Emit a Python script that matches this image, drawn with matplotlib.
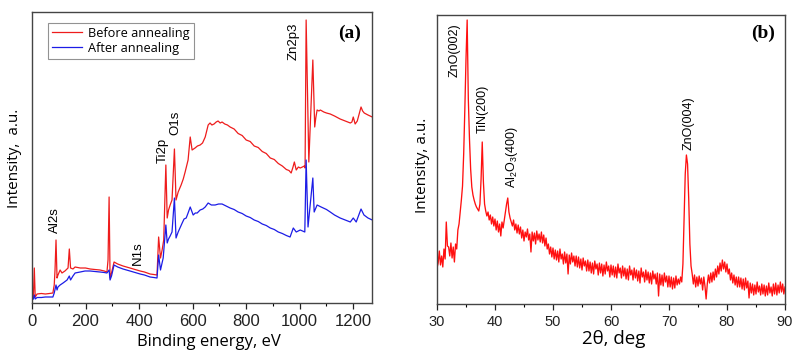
import numpy as np
import matplotlib
matplotlib.use("Agg")
import matplotlib.pyplot as plt

# ---- (a) XPS survey (binding energy eV, intensity a.u.)
red_ev = [0, 5, 8.6, 12, 19, 35, 50, 65, 78, 83, 86, 89.7, 93.5, 97, 105, 112, 123,
          134.6, 139.4, 144, 153, 161, 180, 200, 217, 235, 254, 270, 280, 284, 288,
          291.6, 297, 306.5, 320, 340, 366, 385, 404, 420, 441, 455, 467, 473, 480,
          486, 492, 500, 505, 510, 516, 523, 532, 538, 546, 557, 565, 572, 583, 591,
          598, 609, 618, 628, 637, 647, 658, 665, 672, 680, 688, 695, 703, 710, 720,
          730, 740, 755, 770, 785, 800, 815, 830, 845, 860, 875, 890, 905, 920, 935,
          950, 960, 968, 975, 980, 987, 995, 1002, 1010, 1017, 1020, 1024, 1034, 1049,
          1056, 1060, 1065, 1072, 1077, 1090, 1100, 1114, 1130, 1151, 1170, 1189, 1195,
          1200, 1207, 1215, 1229, 1235, 1241, 1255, 1271]
red_int = [5, 5, 35, 6, 9, 9.5, 9, 9.5, 10, 18, 33, 63, 25, 28, 33, 30, 32,
           35, 54, 35, 34, 36, 35, 35, 34, 33.5, 33, 32, 31, 43, 106,
           25, 30, 41, 39, 37, 35, 33.5, 32, 31, 29, 28.5, 28, 66, 45,
           53, 63, 138, 85, 93, 98, 103, 154, 103, 111, 118, 124, 131, 143, 166,
           153, 155, 157, 158, 160, 166, 178, 180, 178, 179, 181, 182, 180, 181, 179,
           178, 176, 174, 169.5, 167.5, 163, 161.5, 157, 155.5, 151.5, 149.5, 145, 143.5, 139.5, 137,
           133.5, 132.5, 130, 136, 141, 133, 136, 135, 136, 137, 135, 283, 141, 243,
           176, 185, 193, 192, 193, 191, 190, 189, 187, 184, 182, 180, 181,
           186, 179, 182, 196, 192, 190, 188, 186]

blue_ev = [0, 5, 8.6, 12, 19, 35, 50, 65, 78, 83, 89.7, 93.5, 97, 105, 116, 131,
           139.4, 144, 153, 161, 180, 198, 217, 235, 254, 270, 280, 288, 291.6, 297,
           306.5, 320, 340, 366, 385, 404, 420, 441, 455, 467, 473, 480, 490, 500, 505,
           510, 516, 523, 532, 538, 546, 561, 568, 576, 583, 591, 602, 610, 617, 628,
           638, 647, 658, 670, 684, 697, 710, 725, 740, 755, 770, 785, 800, 815, 830,
           845, 860, 875, 890, 905, 920, 935, 950, 964, 976, 987, 1002, 1019, 1024,
           1031, 1049, 1054, 1065, 1080, 1100, 1114, 1130, 1151, 1170, 1189, 1200,
           1211, 1229, 1240, 1255, 1271]
blue_int = [3, 4, 8, 4, 5.5, 5.5, 6, 6, 6, 10, 18, 13, 16, 18, 20, 23,
            27, 23, 27, 30, 31, 32, 32, 31.5, 31, 30.5, 30, 33, 23, 27,
            38, 36, 34, 32, 30.5, 29, 28, 26, 25.5, 25, 48, 33, 45, 78, 60,
            64, 67, 71, 105, 65, 71, 80, 84, 85, 90, 96, 88, 90, 90, 93,
            94, 96, 100, 98, 98, 99, 99, 97, 95, 93.5, 91, 89.5, 87, 85.5, 83,
            81.5, 79, 77.5, 75, 73.5, 71, 69.5, 67.5, 66, 75, 71, 73, 71, 143,
            76, 125, 91, 98, 96, 93.5, 91, 88, 85, 83, 81, 85,
            81, 94, 88, 85, 83]

xps_peaks = ["Al2s", "N1s", "Ti2p", "O1s", "Zn2p3"]
xps_peak_ev = [86, 396, 490, 535, 976]
xps_peak_y = [70, 38, 140, 168, 243]

# ---- (b) XRD pattern, 2theta from 30 to 90 deg in 0.2 deg steps
xrd_counts = [
    36, 41, 53, 39, 48, 37, 55, 45, 82, 58,
    57, 48, 61, 46, 57, 42, 60, 55, 74, 80,
    92, 104, 118, 150, 195, 245, 284, 205, 165, 135,
    117, 109, 104, 100, 97, 95, 93, 100, 125, 162,
    122, 100, 93, 88, 92, 84, 89, 80, 87, 78,
    85, 74, 83, 72, 80, 68, 82, 76, 84, 92,
    100, 106, 92, 86, 82, 78, 84, 74, 80, 71,
    79, 70, 77, 66, 74, 63, 72, 67, 75, 64,
    70, 52, 72, 63, 71, 60, 73, 64, 70, 62,
    72, 61, 69, 58, 66, 55, 60, 50, 57, 47,
    56, 45, 54, 44, 53, 42, 55, 45, 50, 40,
    52, 41, 50, 30, 49, 40, 51, 42, 48, 38,
    48, 37, 47, 36, 45, 34, 46, 38, 43, 33,
    44, 33, 42, 31, 41, 30, 43, 35, 40, 29,
    41, 31, 40, 28, 39, 30, 42, 33, 38, 27,
    39, 29, 38, 27, 37, 26, 40, 31, 36, 26,
    38, 28, 36, 25, 35, 24, 38, 29, 34, 24,
    36, 26, 34, 23, 33, 21, 36, 27, 32, 22,
    34, 24, 32, 21, 31, 20, 33, 25, 30, 20,
    31, 8, 30, 19, 29, 18, 31, 22, 28, 17,
    28, 17, 27, 15, 26, 16, 28, 19, 25, 20,
    27, 22, 40, 85, 130, 149, 140, 105, 60, 38,
    30, 20, 29, 17, 27, 18, 28, 20, 26, 14,
    27, 18, 5, 20, 29, 21, 31, 22, 32, 24,
    35, 27, 38, 30, 41, 33, 44, 35, 42, 32,
    40, 30, 35, 24, 31, 21, 29, 19, 27, 17,
    27, 17, 26, 15, 25, 14, 26, 16, 23, 6,
    21, 11, 20, 9, 19, 10, 22, 12, 18, 9,
    20, 10, 19, 8, 18, 9, 21, 11, 17, 8,
    20, 10, 21, 9, 19, 11, 22, 12, 20, 10,
    17]
tth = np.linspace(30, 90, len(xrd_counts))

xrd_peaks = ["ZnO(002)", "TiN(200)", r"Al$\mathregular{_2}$O$\mathregular{_3}$(400)", "ZnO(004)"]
xrd_peak_tth = [33.1, 37.9, 42.9, 73.3]
xrd_peak_y = [227, 171, 116, 154]

fig = plt.figure(figsize=(7.97, 3.58), dpi=100)
ax1 = fig.add_axes([32/797, 1-303/358, 340/797, 291/358])
ax2 = fig.add_axes([437/797, 1-304/358, 348/797, 289/358])

red = "#ee1c1c"
blue = "#1c1ce6"
tick_font = "Liberation Sans"
label_font = "Open Sans"

ax1.plot(red_ev, red_int, color=red, lw=0.9, label="Before annealing")
ax1.plot(blue_ev, blue_int, color=blue, lw=0.9, label="After annealing")
ax1.set_xlim(0, 1270)
ax1.set_ylim(0, 291)
ax1.set_xticks(range(0, 1201, 200))
ax1.set_xticks(range(100, 1270, 200), minor=True)
for name, xv, yv in zip(xps_peaks, xps_peak_ev, xps_peak_y):
    ax1.text(xv, yv, name, rotation=90, ha="center", va="bottom",
             fontsize=9.5, family=tick_font)
leg = ax1.legend(loc="upper left", bbox_to_anchor=(0.047, 0.962), borderaxespad=0,
                 fancybox=False, handlelength=2.4, handletextpad=0.45, labelspacing=0.15,
                 borderpad=0.3, prop={"family": label_font, "size": 9.2})
leg.get_frame().set_edgecolor("#777777")
leg.get_frame().set_linewidth(0.8)
ax1.text(0.935, 0.928, "(a)", transform=ax1.transAxes, ha="center", va="center",
         fontsize=14, fontweight="bold", family="Liberation Serif")

ax2.plot(tth, xrd_counts, color="#ff1010", lw=0.95)
ax2.set_xlim(30, 90)
ax2.set_ylim(0, 289)
ax2.set_xticks(range(30, 91, 10))
ax2.set_xticks(range(35, 90, 10), minor=True)
for name, xv, yv in zip(xrd_peaks, xrd_peak_tth, xrd_peak_y):
    ax2.text(xv, yv, name, rotation=90, ha="center", va="bottom",
             fontsize=9, family=tick_font)
ax2.text(0.937, 0.938, "(b)", transform=ax2.transAxes, ha="center", va="center",
         fontsize=14, fontweight="bold", family="Liberation Serif")

for ax, fs in ((ax1, 12), (ax2, 10.5)):
    ax.set_yticks([])
    ax.tick_params(axis="x", which="major", direction="out", length=4, width=0.9,
                   pad=4, labelsize=fs, colors="#222222")
    ax.tick_params(axis="x", which="minor", direction="out", length=2.5, width=0.8)
    for lab in ax.get_xticklabels():
        lab.set_family(tick_font)
    for sp in ax.spines.values():
        sp.set_color("#444444")
        sp.set_linewidth(1.0)

fig.text(209/797, 1-342/358, "Binding energy, eV", ha="center", va="center",
         fontsize=12, family=label_font)
fig.text(614/797, 1-339/358, "2θ, deg", ha="center", va="center",
         fontsize=13.5, family=label_font)
fig.text(15/797, 1-158/358, "Intensity,  a.u.", rotation=90, ha="center", va="center",
         fontsize=11, family=label_font)
fig.text(422/797, 1-165/358, "Intensity, a.u.", rotation=90, ha="center", va="center",
         fontsize=11, family=label_font)

fig.savefig("out.png", dpi=100)
